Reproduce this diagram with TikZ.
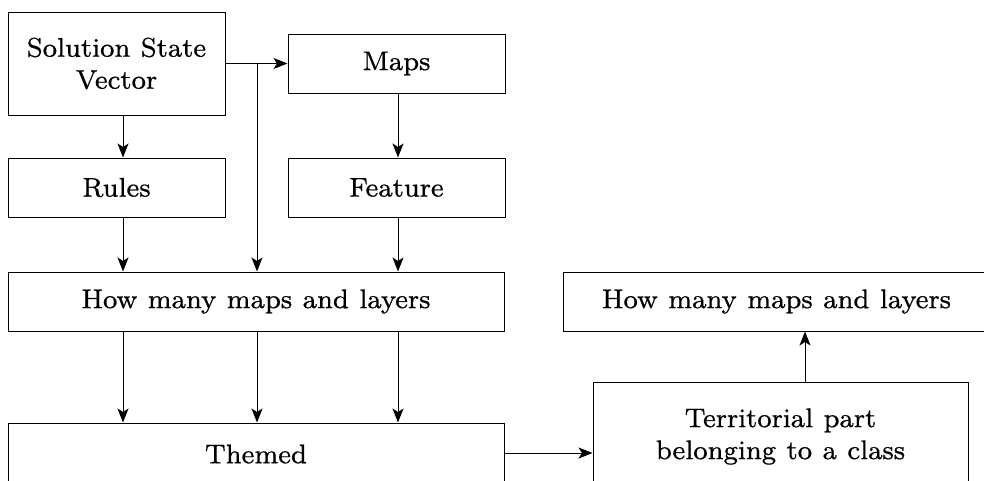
\documentclass[tikz,border=0pt]{standalone}
\usetikzlibrary{arrows.meta}
\font\diagfont="[lmroman8-regular]:embolden=0.6" at 27pt
\fontdimen2\diagfont=10.5pt
\tikzset{
  box/.style={draw, line width=1pt, rectangle, inner sep=0pt, align=center,
    font={\diagfont\setlength\baselineskip{32pt}}},
  link/.style={line width=1pt, -{Stealth[length=14pt,width=11pt,inset=3.5pt]}}
}
\begin{document}
\begin{tikzpicture}[x=1pt,y=-1pt]
\useasboundingbox (0,0) rectangle (984,480);
\clip (0,0) rectangle (984,480);
\node[box, minimum width=217pt, minimum height=103pt] (ssv) at (116.5,63.5) {Solution State\\Vector};
\node[box, minimum width=217pt, minimum height=59pt] (maps) at (396.5,63.5) {Maps};
\node[box, minimum width=217pt, minimum height=59pt] (rules) at (116.5,187.5) {Rules};
\node[box, minimum width=217pt, minimum height=59pt] (feat) at (396.5,187.5) {Feature};
\node[box, minimum width=496pt, minimum height=59pt] (hm1) at (256,301.5) {How many maps and layers};
\node[box, minimum width=496pt, minimum height=62pt] (themed) at (256,454) {Themed};
\node[box, minimum width=427pt, minimum height=59pt] (hm2) at (776.5,301.5) {How many maps and layers};
\node[box, minimum width=375pt, minimum height=109pt] (terr) at (780.5,436.5) {Territorial part\\belonging to a class};
\coordinate (cl) at (123,0);
\coordinate (cm) at (257,0);
\coordinate (cr) at (398,0);
\coordinate (cu) at (805,0);
\coordinate (j) at (257,63.5);
\draw[link] (ssv.east) -- (maps.west);
\draw[link] (j) -- (j |- hm1.north);
\draw[link] (ssv.south -| cl) -- (rules.north -| cl);
\draw[link] (maps.south -| cr) -- (feat.north -| cr);
\draw[link] (rules.south -| cl) -- (hm1.north -| cl);
\draw[link] (feat.south -| cr) -- (hm1.north -| cr);
\draw[link] (hm1.south -| cl) -- (themed.north -| cl);
\draw[link] (hm1.south -| cm) -- (themed.north -| cm);
\draw[link] (hm1.south -| cr) -- (themed.north -| cr);
\coordinate (te) at (504,453);
\draw[link] (te) -- (te -| terr.west);
\draw[link] (terr.north -| cu) -- (hm2.south -| cu);
\end{tikzpicture}
\end{document}
